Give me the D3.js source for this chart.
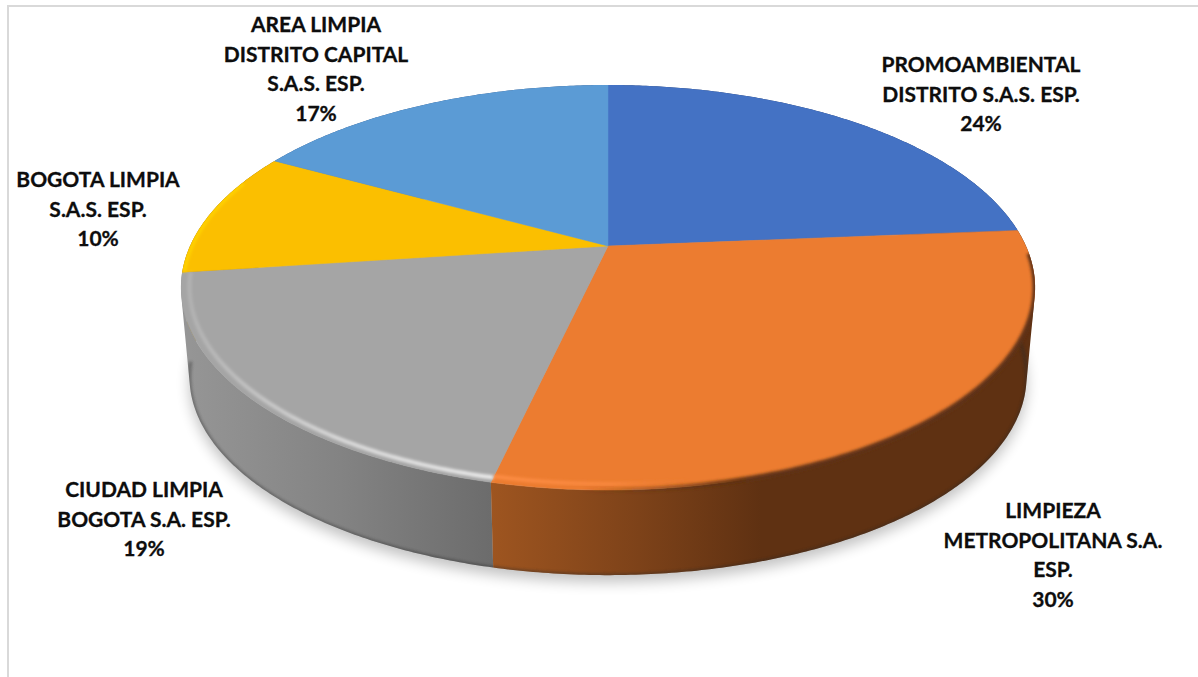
<!DOCTYPE html>
<html>
<head>
<meta charset="utf-8">
<script src="https://cdn.jsdelivr.net/npm/d3@7"></script>
<style>
  html, body { margin: 0; padding: 0; background: #fff; overflow: hidden; }
  text { font-family: Lato, "Open Sans", sans-serif; font-weight: 700; fill: #0d0d0d; stroke: #0d0d0d; stroke-width: 0.3; }
</style>
</head>
<body>
<div class="canva"></div>
<script>
// values, labels round them
const names = [
  ["PROMOAMBIENTAL", "DISTRITO S.A.S. ESP."],
  ["LIMPIEZA", "METROPOLITANA S.A.", "ESP."],
  ["CIUDAD LIMPIA", "BOGOTA S.A. ESP."],
  ["BOGOTA LIMPIA", "S.A.S. ESP."],
  ["AREA LIMPIA", "DISTRITO CAPITAL", "S.A.S. ESP."]
];
const shares = [23.7, 29.9, 19.3, 10.1, 17.0];
const colors = ["#4472C4", "#EC7C30", "#A5A5A5", "#FBBF00", "#5B9BD5"];

// label centre x, y of first line
const labelSpots = [[981, 65], [1053, 511], [144, 490], [98, 180], [316, 25]];
const lineGap = 29.4;

const width = 1198, height = 677;
const apex = {x: 608, y: 246};
const rx = 418, ry = 194, tilt = 0.205;  // perspective of the disc
const depth = 90, bottomScale = 0.98;

const svg = d3.select(".canva").append("svg")
  .attr("width", width)
  .attr("height", height)
  .style("display", "block");

const defs = svg.append("defs");

// point on the rim for a pie angle (0 = top, clockwise)
function rim(angle, scale = 1, dy = 0) {
  const u = Math.sin(angle), v = Math.cos(angle);
  const w = 1 + tilt * v;
  return [apex.x + scale * rx * u / w, apex.y + dy - scale * ry * v / w];
}
function arcPoints(a0, a1, scale = 1, dy = 0) {
  const n = Math.max(2, Math.ceil(Math.abs(a1 - a0) / 0.01));
  return d3.range(n + 1).map(i => rim(a0 + (a1 - a0) * i / n, scale, dy));
}
const line = d3.line();

const arcs = d3.pie().sort(null).value(d => d)(shares);

function topPath(d) {
  return line([[apex.x, apex.y], ...arcPoints(d.startAngle, d.endAngle)]) + "Z";
}
// wall as a strip of small quads, the two rims cross so one polygon would leave gaps
function sidePath(d) {
  const up = arcPoints(d.startAngle, d.endAngle);
  const down = arcPoints(d.startAngle, d.endAngle, bottomScale, depth);
  return d3.range(up.length - 1).map(i => {
    const quad = [up[i], up[i + 1], down[i + 1], down[i]];
    if (d3.polygonArea(quad) < 0) quad.reverse();
    return line(quad) + "Z";
  }).join("");
}

function blur(id, dev) {
  defs.append("filter").attr("id", id)
    .attr("x", "-10%").attr("y", "-10%").attr("width", "120%").attr("height", "120%")
    .append("feGaussianBlur").attr("stdDeviation", dev);
}
blur("soft", 1.4);
blur("shadow", 7);

function gradient(id, x1, x2, stops) {
  const g = defs.append("linearGradient").attr("id", id)
    .attr("gradientUnits", "userSpaceOnUse")
    .attr("x1", x1).attr("x2", x2).attr("y1", 0).attr("y2", 0);
  stops.forEach(s => g.append("stop")
    .attr("offset", s[0]).attr("stop-color", s[1]).attr("stop-opacity", s[2] === undefined ? 1 : s[2]));
}

const orangeEnd = rim(arcs[1].endAngle)[0];
const greyStart = apex.x - rx;
gradient("sideOrange", orangeEnd, orangeEnd + 270, [[0, "#9E5520"], [0.55, "#7D4219"], [1, "#5F3112"]]);
gradient("sideGrey", greyStart, orangeEnd, [[0, "#959595"], [0.5, "#838383"], [1, "#6C6C6C"]]);
gradient("lightGrey", greyStart, orangeEnd, [[0, "#ffffff", 0.15], [0.5, "#ffffff", 0.6], [1, "#ffffff", 0.8]]);
gradient("edgeOrange", orangeEnd, orangeEnd + 200, [[0, "#FF8E45", 1], [0.6, "#FF8E45", 0.7], [1, "#EC7C30", 0]]);
gradient("edgeDark", orangeEnd + 90, orangeEnd + 260, [[0, "#5F3112", 0], [1, "#5F3112", 1]]);

const sideFills = ["#2A4478", "url(#sideOrange)", "url(#sideGrey)", "#997300", "#376092"];

// frame, only left and top show
svg.append("path")
  .attr("d", line([[8, height], [8, 6], [width, 6]]))
  .attr("fill", "none")
  .attr("stroke", "#D9D9D9")
  .attr("stroke-width", 2);

// shadow under the disc
svg.append("path")
  .attr("d", line(arcPoints(0, 2 * Math.PI, bottomScale, depth + 7)))
  .attr("fill", "#000")
  .attr("opacity", 0.24)
  .attr("filter", "url(#shadow)");

// outline of the whole solid, keeps blurred rims inside it
const clip = defs.append("clipPath").attr("id", "solid");
arcs.forEach(d => {
  clip.append("path").attr("d", sidePath(d));
  clip.append("path").attr("d", topPath(d));
});

// side wall, back slices first
const midCos = d => Math.cos((d.startAngle + d.endAngle) / 2);
svg.append("g").selectAll("path")
  .data(arcs)
  .join("path")
  .attr("d", sidePath)
  .attr("fill", (d, i) => sideFills[i])
  .sort((a, b) => midCos(b) - midCos(a));

const rims = svg.append("g").attr("clip-path", "url(#solid)");

// dark lower edge of the wall
rims.append("path")
  .attr("d", line(arcPoints(arcs[1].startAngle, arcs[3].startAngle, bottomScale, depth)))
  .attr("fill", "none")
  .attr("stroke", "#2a2a2a")
  .attr("stroke-width", 3)
  .attr("opacity", 0.45)
  .attr("filter", "url(#soft)");

// top faces
const tops = svg.append("g").attr("clip-path", "url(#solid)");
tops.selectAll("path")
  .data(arcs)
  .join("path")
  .attr("d", topPath)
  .attr("fill", (d, i) => colors[i])
  .attr("stroke", (d, i) => colors[i])
  .attr("stroke-width", 0.5);

// dark blur where the orange face meets its wall
tops.append("path")
  .attr("d", line(arcPoints(arcs[1].startAngle + 0.12, arcs[1].endAngle)))
  .attr("fill", "none")
  .attr("stroke", "url(#edgeDark)")
  .attr("stroke-width", 5)
  .attr("filter", "url(#soft)");

// bevel highlights
tops.append("path")
  .attr("d", line(arcPoints(arcs[1].endAngle - 0.6, arcs[1].endAngle, 0.975)))
  .attr("fill", "none")
  .attr("stroke", "url(#edgeOrange)")
  .attr("stroke-width", 3.5)
  .attr("filter", "url(#soft)");

tops.append("path")
  .attr("d", line(arcPoints(arcs[2].startAngle, arcs[2].endAngle, 0.98)))
  .attr("fill", "none")
  .attr("stroke", "url(#lightGrey)")
  .attr("stroke-width", 4)
  .attr("filter", "url(#soft)");

tops.append("path")
  .attr("d", line(arcPoints(arcs[3].startAngle, arcs[3].endAngle - 0.15, 0.995)))
  .attr("fill", "none")
  .attr("stroke", "#FFD400")
  .attr("stroke-width", 3)
  .attr("filter", "url(#soft)");

// labels
const labels = svg.append("g").selectAll("text")
  .data(arcs)
  .join("text")
  .attr("text-anchor", "middle")
  .attr("font-size", 21)
  .attr("transform", (d, i) => `translate(${labelSpots[i][0]}, ${labelSpots[i][1]})`);

labels.selectAll("tspan")
  .data((d, i) => [...names[i], d3.format(".0f")(d.data) + "%"])
  .join("tspan")
  .attr("x", 0)
  .attr("y", (d, i) => i * lineGap)
  .attr("dy", "0.35em")
  .text(d => d);
</script>
</body>
</html>
